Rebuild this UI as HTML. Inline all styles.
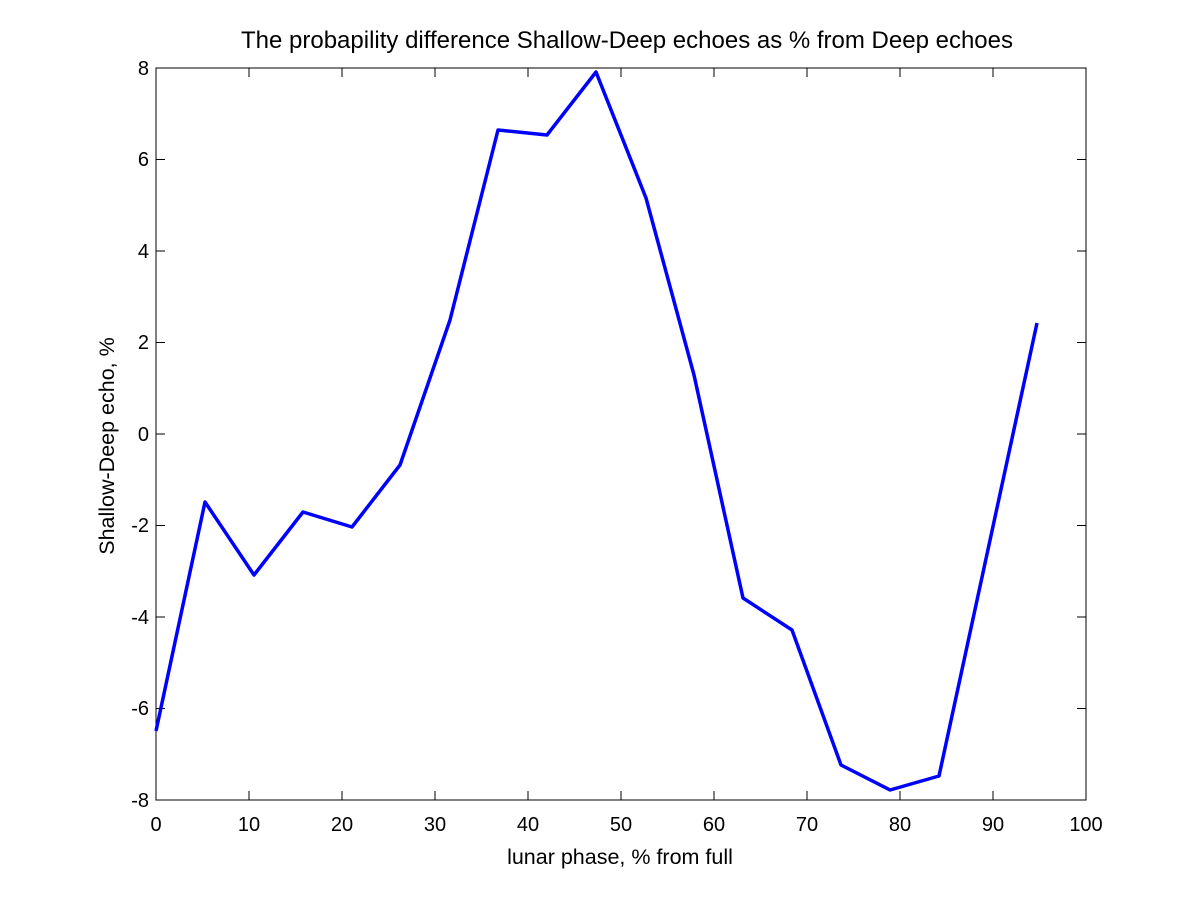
<!DOCTYPE html>
<html><head><style>body{margin:0;background:#fff}svg{display:block}</style></head><body>
<svg width="1200" height="900" xmlns="http://www.w3.org/2000/svg" font-family="Liberation Sans, sans-serif">
<rect width="1200" height="900" fill="#fff"/>
<rect x="156" y="68" width="930" height="732" fill="#fff" stroke="#000" stroke-width="1"/>
<g stroke="#000" stroke-width="1">
<path d="M156,800v-9M249,800v-9M342,800v-9M435,800v-9M528,800v-9M621,800v-9M714,800v-9M807,800v-9M900,800v-9M993,800v-9M1086,800v-9"/>
<path d="M156,68v9M249,68v9M342,68v9M435,68v9M528,68v9M621,68v9M714,68v9M807,68v9M900,68v9M993,68v9M1086,68v9"/>
<path d="M156,68h9M156,159.5h9M156,251h9M156,342.5h9M156,434h9M156,525.5h9M156,617h9M156,708.5h9M156,800h9"/>
<path d="M1086,68h-9M1086,159.5h-9M1086,251h-9M1086,342.5h-9M1086,434h-9M1086,525.5h-9M1086,617h-9M1086,708.5h-9M1086,800h-9"/>
</g>
<g font-size="20" text-anchor="middle" fill="#000">
<text x="156" y="831">0</text><text x="249" y="831">10</text><text x="342" y="831">20</text><text x="435" y="831">30</text><text x="528" y="831">40</text><text x="621" y="831">50</text><text x="714" y="831">60</text><text x="807" y="831">70</text><text x="900" y="831">80</text><text x="993" y="831">90</text><text x="1086" y="831">100</text>
</g>
<g font-size="20" text-anchor="end" fill="#000">
<text x="149" y="75">8</text><text x="149" y="166">6</text><text x="149" y="258">4</text><text x="149" y="349">2</text><text x="149" y="441">0</text><text x="149" y="532">-2</text><text x="149" y="624">-4</text><text x="149" y="715">-6</text><text x="149" y="807">-8</text>
</g>
<text x="620" y="864" font-size="21.5" text-anchor="middle">lunar phase, % from full</text>
<text x="114" y="446" font-size="21.5" text-anchor="middle" transform="rotate(-90 114 446)">Shallow-Deep echo, %</text>
<text x="627" y="48" font-size="24" text-anchor="middle">The probapility difference Shallow-Deep echoes as % from Deep echoes</text>
<polyline fill="none" stroke="#0000ff" stroke-width="3.5" stroke-linejoin="round" points="156,731 205,502 254,575 303,512 352,527 400,465 450,320 498,130 547,135 596,72 646,198 694,375 743,598 792,630 841,765 890,790 939,776 1037,323"/>
</svg>
</body></html>
